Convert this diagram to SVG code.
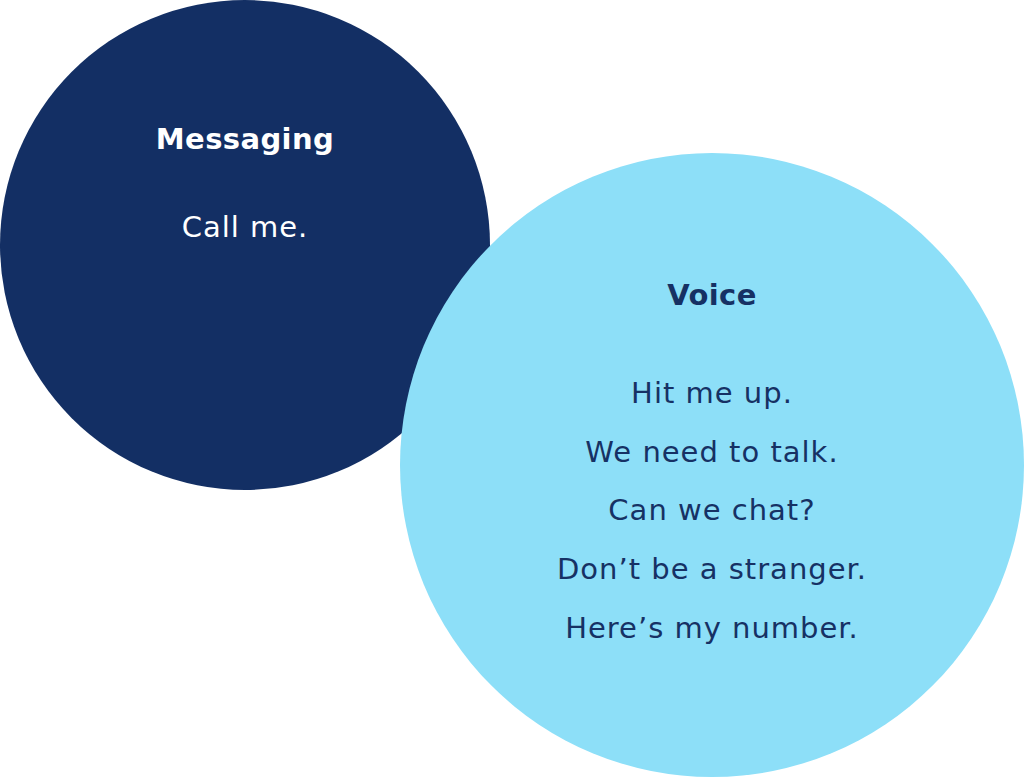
<svg xmlns="http://www.w3.org/2000/svg" width="1024" height="777" viewBox="0 0 1024 777">
<style>
.t{font-family:"DejaVu Sans","Open Sans",sans-serif;text-anchor:middle;font-size:29px;letter-spacing:1px}
.h{font-weight:700;font-size:29px;letter-spacing:0.4px}
.w{fill:#ffffff}
.d{fill:#163164}
</style>
<rect width="1024" height="777" fill="#ffffff"/>
<g id="messaging">
<circle cx="245" cy="245" r="245" fill="#132f64"/>
<text class="t h w" x="245" y="149">Messaging</text>
<text class="t w" x="245" y="237">Call me.</text>
</g>
<g id="voice">
<circle cx="712" cy="465" r="312" fill="#8ddff8"/>
<text class="t h d" x="712" y="305">Voice</text>
<text class="t d" x="712" y="403">Hit me up.</text>
<text class="t d" x="712" y="462">We need to talk.</text>
<text class="t d" x="712" y="520">Can we chat?</text>
<text class="t d" x="712" y="579">Don’t be a stranger.</text>
<text class="t d" x="712" y="638">Here’s my number.</text>
</g>
<g id="connectors"></g>
</svg>
